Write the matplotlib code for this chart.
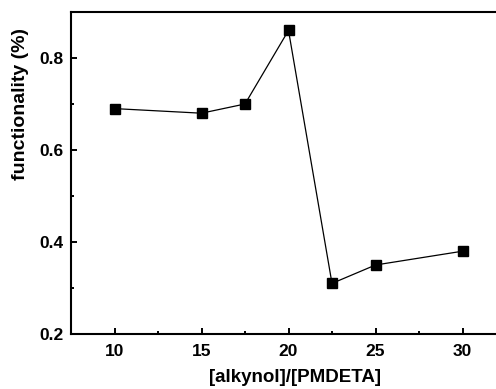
import matplotlib
matplotlib.use("Agg")
import matplotlib.pyplot as plt
from matplotlib.ticker import MultipleLocator

ratio = [10, 15, 17.5, 20, 22.5, 25, 30]
functionality = [0.69, 0.68, 0.70, 0.86, 0.31, 0.35, 0.38]

plt.rcParams["font.family"] = ["Liberation Sans", "DejaVu Sans"]
plt.rcParams["font.weight"] = "bold"

fig = plt.figure(figsize=(4.96, 3.89), dpi=100)
# axes runs past the right edge, as in the cropped original
ax = fig.add_axes([71 / 496, 1 - 334 / 389, 435 / 496, 322 / 389])

ax.plot(ratio, functionality, color="black", linewidth=0.9,
        marker="s", markersize=6.5, markerfacecolor="black", markeredgecolor="black")

ax.set_xlim(7.5, 32.5)
ax.set_ylim(0.2, 0.9)
ax.xaxis.set_major_locator(MultipleLocator(5))
ax.xaxis.set_minor_locator(MultipleLocator(2.5))
ax.yaxis.set_major_locator(MultipleLocator(0.2))
ax.yaxis.set_minor_locator(MultipleLocator(0.1))

for side in ax.spines.values():
    side.set_linewidth(1.5)
ax.tick_params(which="both", direction="in", width=1.4, labelsize=12.5)
ax.tick_params(which="major", length=4)
ax.tick_params(which="minor", length=2.5)
ax.tick_params(axis="x", which="major", pad=7.5)
ax.tick_params(axis="y", which="major", pad=5.5)
for lab in ax.get_xticklabels() + ax.get_yticklabels():
    lab.set_fontweight("bold")

ax.set_xlabel("[alkynol]/[PMDETA]", fontsize=13.5, fontweight="bold")
ax.xaxis.set_label_coords(0.515, -0.11)
ax.xaxis.label.set_va("top")
ax.set_ylabel("functionality (%)", fontsize=14, fontweight="bold")
ax.yaxis.set_label_coords(-0.097, 0.714)

fig.savefig("out.png", dpi=100)
